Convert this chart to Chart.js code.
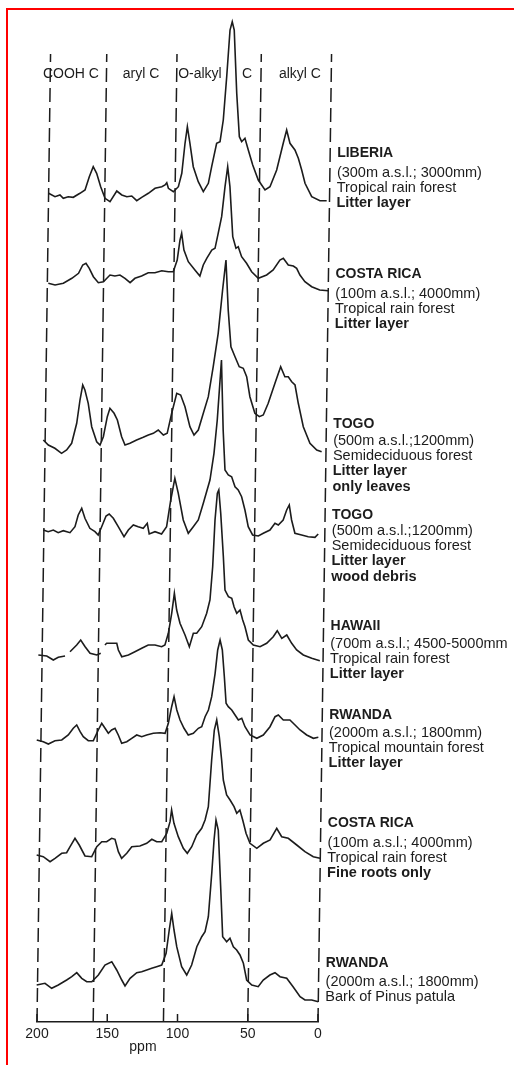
<!DOCTYPE html>
<html><head><meta charset="utf-8">
<script src="https://cdn.jsdelivr.net/npm/chart.js@4.4.1/dist/chart.umd.min.js"></script>
<style>
html,body{margin:0;padding:0;background:#fff;}
#wrap{position:relative;width:514px;height:1065px;overflow:hidden;background:#fff;}
#frame{position:absolute;left:6px;top:8px;right:-4px;bottom:-4px;border-left:2px solid #f00;border-top:2px solid #f00;}
canvas{position:absolute;left:0;top:0;}
</style></head><body>
<div id="wrap"><div id="frame"></div><canvas id="c" width="514" height="1065"></canvas></div>
<script>
// ---------- data (ppm, relative intensity) ----------
const ppmTicks = [200, 150, 100, 50, 0];
const regionBounds = [200, 160, 110, 50, 0];
const regionNames = ["COOH C", "aryl C", "O-alkyl", "C", "alkyl C"];

const liberia = [[200,6.7],[195.4,3.3],[191.9,5],[189.5,1.7],[186,3.3],[182.4,2.7],[177.7,6.7],[174.1,10],[171.2,23.3],[168.5,33.3],[166,26.7],[163,13.3],[159.8,1.7],[156.2,-1.7],[151.5,9],[147.9,5],[144.3,3.3],[140.8,4],[137.2,-0.7],[133.7,2.7],[129,6.7],[124.3,11.7],[119.5,13.3],[117.2,15],[116,17.3],[114.8,11.7],[111.2,8.3],[107.7,13.3],[105.4,26.7],[103.4,56.7],[101.9,73.3],[99.9,56.7],[97.3,33.3],[93.6,18.3],[89.9,8.3],[86.4,16.7],[84.2,33.3],[80.9,56.7],[78.5,58.3],[76.4,80],[74.4,123.3],[72.5,170],[71,178.3],[69.5,170],[67.1,106.7],[64.8,63.3],[63.1,58.3],[60.8,61.7],[58.3,50],[55,35],[50.9,20],[46,10],[42.5,13.3],[37.9,30],[33.5,56.7],[31.2,70],[28.7,56.7],[25.1,50],[22.6,41.7],[20.1,30],[17.6,16.7],[12.7,3.3],[6.8,-0.7],[2,-0.7]];
const costaRicaLitter = [[199.3,4.7],[194.5,3],[188.6,4.7],[182.6,9.7],[177.9,14.7],[175,23],[172.7,24.7],[170.3,19.7],[167.3,11.3],[163.7,5.3],[160.1,6.3],[155.5,13],[152,12],[148.4,13],[144.8,9.7],[141.1,5.3],[137.7,9.7],[133,12],[128.3,15.3],[123.5,15.3],[118.7,17.3],[114,16.3],[110.5,16.3],[107.8,28],[106,48],[104.9,54.7],[103.1,38],[99.9,26.3],[95.1,18],[91.5,12],[89.2,23],[86.8,29.7],[83.3,38],[81,39.7],[78.9,54.7],[76.6,71.3],[74.5,101.3],[72.8,121.3],[71,101.3],[68.5,51.3],[66.1,39.7],[64.5,41.3],[62,31.3],[58.4,24.7],[54.7,16.3],[49.9,9.7],[44,13],[39.4,18],[34.7,28],[32.3,29.7],[28.7,23],[25.1,22],[22.7,19.7],[20.3,13],[16.7,6.3],[11.8,1.3],[6.1,-2],[0,-2.7]];
const togoLeaves = [[201.3,5],[197.7,0],[193,-3.3],[188.2,-8.3],[184.6,-5],[181.1,1.7],[177.7,21.7],[175.6,45],[173.8,60],[172.2,55],[169.7,41.7],[167,18.3],[163.3,3.3],[160.9,0],[158.6,8.3],[156,28.3],[154.2,36.7],[151.2,31.7],[148.8,25],[145.6,8.3],[143.1,0],[139.6,1.7],[134.9,5],[130.2,7.7],[126.6,10],[123.1,11.7],[119.6,15],[115.9,10],[113.2,11.7],[110.2,31.7],[106.8,51.7],[104,50],[100.8,38.3],[97.1,18.3],[94.1,10],[91.1,15],[87.7,31.7],[84.3,48.3],[81.1,78.3],[77.9,111.7],[75.2,155],[73.1,185],[71,135],[68.7,98.3],[65.7,88.3],[62.6,78.3],[59.7,76.7],[57.2,68.3],[54.7,48.3],[51,31.7],[47.8,28.3],[45,30],[41.6,41.7],[37,61.7],[33.1,78.3],[30,68.3],[27.6,68.3],[25.1,63.3],[22.7,60],[20.2,41.7],[16.4,18.3],[11.5,1.7],[6.6,-5],[3.1,-6.7]];
const togoWood = [[200.4,2],[196.9,0.3],[193.3,2],[189.8,-0.7],[186.2,1.3],[181.4,-0.7],[177.9,5.3],[175.7,17],[173.3,23.7],[170.9,13.7],[167.3,3.7],[163.6,0.3],[161.3,-3],[158.9,5.3],[155.9,16],[153.7,18],[150.7,13.7],[147.1,5.3],[142.9,-4.7],[139.9,2],[136.4,7],[132.9,5.3],[129.3,3.7],[126.5,8.7],[125,-2],[120.9,0.3],[116.2,-2],[112.7,5.3],[110,32],[107.3,53.7],[104.7,38.7],[100.9,12],[97.2,-1.3],[93.7,5.3],[90.2,12],[86.8,28.7],[82.3,52],[79.7,78.7],[77.7,112],[75.3,172],[73.4,102],[71.7,62],[69.3,57],[66.9,55.3],[64.4,45.3],[62.1,42],[59.6,35.3],[57.1,22],[54.6,5.3],[51.4,-3],[47.3,-4],[43.8,-1.3],[39.1,2],[35.6,8.7],[33.2,7],[29.8,12],[27.4,22],[25.6,27],[23.8,12],[21.3,-1.3],[16.5,-3],[11.8,-4.7],[7,-5.3],[4.7,-2]];
const hawaii = [[202.7,1],[196.7,0],[192,-4],[188.5,-1.3],[183.7,0],null,[180.2,4.3],[175.5,11],[172.7,16],[169.5,9.3],[165.9,2.7],[161.1,1],[158.3,2.7],null,[155.4,11],[154.2,12.7],[147,12.7],[145.8,6],[143.3,-0.7],[138.6,1],[134,4.3],[129.2,7.7],[124.6,11],[119.8,11],[115,9.3],[112.7,11],[110.4,22.7],[108.2,42.7],[106.5,62.7],[104.7,46],[102.2,32.7],[98.5,21],[95.3,9.3],[92.6,22.7],[90.2,22.7],[86.7,29.3],[83.3,42.7],[81.1,56],[79.5,89.3],[78.3,136],[76.9,162.7],[75.9,166],[74.3,142.7],[72,99.3],[70.5,66],[68,59.3],[65.6,57.7],[63.9,49.3],[61.9,42.7],[59.6,46],[57.6,36],[55.9,29.3],[53.4,16],[49.8,11],[45,9.3],[40.3,12.7],[35.7,19.3],[32.9,25.3],[29.6,17.7],[26.1,21],[22.5,12.7],[18.9,6],[14.1,1],[8.1,-2.3],[2.3,-4.7]];
const rwandaLitter = [[203,1],[198.3,-0.7],[194.7,-3],[190,0.3],[185.2,1],[180.6,6],[177.1,12.7],[174.7,16],[172.2,9.3],[169.9,4.3],[166.3,0.3],[162.7,0.3],[159.3,11],[156.9,17.7],[154.5,12.7],[152.1,7.7],[149.8,11],[147.4,12.7],[145,6],[142.5,-2.3],[138.9,-0.7],[135.4,2.7],[131.9,6],[128.3,4.3],[124.8,6],[120.1,7.7],[115.3,8.3],[111.7,7.7],[109.5,17.7],[107.3,34.3],[105.7,44.3],[103.6,31],[101.2,21],[98.3,12.7],[95.2,6],[91.6,7.7],[88.1,12.7],[85.7,14.3],[83.4,24.3],[81.1,31],[78.9,44.3],[76.7,67.7],[75.1,91],[73.5,101],[71.8,91],[70.1,64.3],[68.6,37.7],[67,34.3],[64.5,31],[62.1,26],[59.7,21],[57.3,22.7],[54.9,14.3],[51.2,6],[46.4,2.7],[41.8,6],[37.1,14.3],[33.6,24.3],[31.3,26],[27.7,21],[23,21],[19.3,16],[15.7,11],[10.9,6],[6.1,2.7],[2.6,3.7]];
const costaRicaRoots = [[201.9,2],[197.2,0.3],[192.3,-4.7],[188.8,-1.3],[184.1,3.7],[180.6,4.3],[178.2,10.3],[174.8,18.7],[171.7,12],[167.5,1],[162.7,0.3],[159.2,10.3],[155.7,15.3],[152.2,15.3],[148.7,18.7],[146.3,17.7],[143.8,5.3],[141.4,-1.3],[137.8,3.7],[134.3,10.3],[128.5,11],[123.7,13.7],[120.1,17.7],[116.6,15.3],[113,15.3],[109.5,23.7],[107.3,35.3],[106.3,47],[104.5,33.7],[101.3,20.3],[97.6,8.7],[94.7,3.7],[91.6,10.3],[88.2,22],[84.7,28.7],[82.4,37],[80.2,50.3],[78.3,97],[76.7,127],[75.1,137],[73.1,120.3],[71.2,97],[69.8,77],[67.3,62],[64.8,57],[61.9,50.3],[59.9,43.7],[57.7,47],[55.6,37],[53.1,23.7],[50.2,13.7],[45.3,8.7],[40.7,13.7],[35.9,17],[31.3,28.7],[27.7,20.3],[23,18.7],[16.9,12],[11,5.3],[5,0.3],[0.2,-1.3]];
const rwandaBark = [[200.6,0],[194.7,1.7],[189.9,-3.3],[185.2,0],[179.3,5],[175.7,8.3],[172.2,12.3],[168.6,6.7],[165,3.3],[161.4,3.3],[156.8,10],[152.2,20],[147.4,23.3],[143.8,15],[140.1,5],[137.7,-1],[134.2,6.7],[129.5,12.3],[126,13.3],[122.4,15],[118.9,16.7],[115.4,18.3],[111.8,20],[108.8,31.7],[106.8,55],[105.2,71.7],[103.4,55],[101.3,38.3],[97.6,18.3],[93.9,10],[90.5,20],[87,38.3],[83.6,48.3],[81.3,53.3],[79.1,68.3],[77.1,111.7],[75.8,145],[74.6,165],[72.9,155],[70.5,95],[68.7,48.3],[65.8,43.3],[63.5,46.7],[61,38.3],[58.6,35],[56.2,30],[53.7,21.7],[51.2,5],[47.5,0],[42.9,-1.7],[39.4,5],[34.7,10],[31.1,12.3],[27.5,8.3],[22.7,6.7],[18.1,-1.7],[13,-11.7],[9.5,-15],[4.7,-15],[0,-16.7]];

const spectra = [liberia, costaRicaLitter, togoLeaves, togoWood, hawaii, rwandaLitter, costaRicaRoots, rwandaBark];
const siteNames = ["LIBERIA", "COSTA RICA", "TOGO", "TOGO", "HAWAII", "RWANDA", "COSTA RICA", "RWANDA"];
const siteDetails = [
  ["(300m a.s.l.; 3000mm)", "Tropical rain forest", "Litter layer"],
  ["(100m a.s.l.; 4000mm)", "Tropical rain forest", "Litter layer"],
  ["(500m a.s.l.;1200mm)", "Semideciduous forest", "Litter layer", "only leaves"],
  ["(500m a.s.l.;1200mm)", "Semideciduous forest", "Litter layer", "wood debris"],
  ["(700m a.s.l.; 4500-5000mm", "Tropical rain forest", "Litter layer"],
  ["(2000m a.s.l.; 1800mm)", "Tropical mountain forest", "Litter layer"],
  ["(100m a.s.l.; 4000mm)", "Tropical rain forest", "Fine roots only"],
  ["(2000m a.s.l.; 1800mm)", "Bark of Pinus patula"]
];
const boldDetails = ["Litter layer", "only leaves", "wood debris", "Fine roots only"];

// ---------- layout (positions / styles) ----------
const stackOffsets = [822, 734, 577, 490, 366, 281, 165, 37]; // baseline height of each trace
const dashTop = 968;
const regionLabelPpm = [185.3, 135.4, 93.5, 60, 22.3];
const regionLabelY = 74;
const nameY = [153, 274, 424, 515, 626, 715, 823, 963];
const detailY = [173, 294, 441, 531, 644, 733, 843, 982];
const lineStep = 15.2;
const SKEW = 0.014;        // shear of the scanned figure (px per px)
const FONT = '"Liberation Sans", Arial, Helvetica, sans-serif';
const INK = '#1c1c1c';

const datasets = [];
spectra.forEach((s, i) => {
  const pts = [];
  s.forEach((p, j) => {
    if (p === null) { const n = s[j + 1]; pts.push({x: n[0], y: null}); }
    else pts.push({x: p[0], y: p[1] + stackOffsets[i]});
  });
  datasets.push({data: pts, borderColor: INK, borderWidth: 1.6, pointRadius: 0, tension: 0, clip: false, spanGaps: false});
});
regionBounds.forEach(b => {
  datasets.push({data: [{x: b, y: 0}, {x: b, y: dashTop}], borderColor: INK, borderWidth: 1.5, borderDash: [14, 6], pointRadius: 0, clip: false});
});

const skewPlugin = {
  id: 'skew',
  beforeDatasetsDraw(chart) {
    const ctx = chart.ctx; ctx.save();
    const y0 = chart.chartArea.bottom;
    ctx.transform(1, 0, -SKEW, 1, SKEW * y0, 0);
  },
  afterDatasetsDraw(chart) { chart.ctx.restore(); }
};

const textPlugin = {
  id: 'texts',
  afterDraw(chart) {
    const ctx = chart.ctx, xs = chart.scales.x, y0 = chart.chartArea.bottom;
    const sx = (ppm, py) => xs.getPixelForValue(ppm) + SKEW * (y0 - py);
    ctx.save();
    ctx.fillStyle = INK; ctx.strokeStyle = INK; ctx.lineWidth = 1.5;
    // inward tick marks
    ppmTicks.forEach(t => {
      const x = xs.getPixelForValue(t);
      ctx.beginPath(); ctx.moveTo(x, y0); ctx.lineTo(x, y0 - 8); ctx.stroke();
    });
    // region labels
    ctx.font = '14px ' + FONT; ctx.textAlign = 'center'; ctx.textBaseline = 'middle';
    regionNames.forEach((n, i) => ctx.fillText(n, sx(regionLabelPpm[i], regionLabelY), regionLabelY));
    // axis unit
    ctx.fillText('ppm', xs.getPixelForValue(124.6), 1047);
    // sample labels
    ctx.textAlign = 'left';
    siteNames.forEach((n, i) => {
      const x = sx(0, nameY[i]) + 7;
      ctx.font = 'bold 14px ' + FONT;
      ctx.fillText(n, x, nameY[i]);
      siteDetails[i].forEach((d, k) => {
        const y = detailY[i] + k * lineStep;
        ctx.font = (boldDetails.includes(d) ? 'bold ' : '') + '14.5px ' + FONT;
        ctx.fillText(d, sx(0, y) + 7, y);
      });
    });
    ctx.restore();
  }
};

new Chart(document.getElementById('c'), {
  type: 'line',
  data: {datasets},
  options: {
    responsive: false, animation: false, devicePixelRatio: 1,
    layout: {padding: {left: 37, right: 196, top: 10, bottom: 0}},
    plugins: {legend: {display: false}, tooltip: {enabled: false}},
    scales: {
      x: {type: 'linear', min: 0, max: 200, reverse: true,
          ticks: {stepSize: 50, color: INK, font: {family: FONT, size: 14}, padding: -4, maxRotation: 0, autoSkip: false},
          grid: {display: false}, border: {display: true, color: INK, width: 1.5},
          afterFit: s => { s.height = 43; }},
      y: {type: 'linear', min: 0, max: 1012, display: false}
    }
  },
  plugins: [skewPlugin, textPlugin]
});
</script>
</body></html>
